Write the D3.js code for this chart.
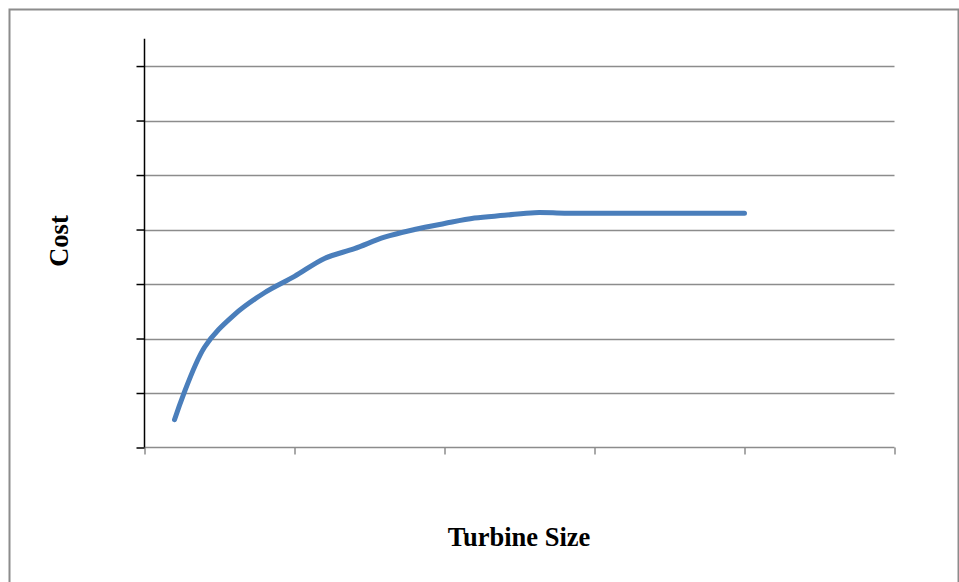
<!DOCTYPE html>
<html><head><meta charset="utf-8">
<script src="https://cdn.jsdelivr.net/npm/d3@7"></script>
<style>html,body{margin:0;padding:0;background:#fff;overflow:hidden}</style>
</head><body>
<svg id="c" width="959" height="582"></svg>
<script>
const sizes = [1,2,3,4,5,6,7,8,9,10,11,12,13,14,15,16,17,18,19,20];
const costs = [0.51,1.84,2.44,2.84,3.14,3.47,3.65,3.86,4.0,4.11,4.21,4.26,4.31,4.3,4.3,4.3,4.3,4.3,4.3,4.3];
const yTicks = [0,1,2,3,4,5,6,7];
const xTicks = [0,5,10,15,20,25];
const xTitle = "Turbine Size";
const yTitle = "Cost";

const svg = d3.select("#c");
svg.append("rect").attr("x",9.5).attr("y",9.5).attr("width",949).attr("height",600)
  .attr("fill","none").attr("stroke","#8c8c8c").attr("stroke-width",2);

const x = d3.scaleLinear().domain([0,25]).range([144.5,894.5]);
const y = d3.scaleLinear().domain([0,7.5]).range([447.5,38.8]);

// gridlines
svg.append("g").selectAll("line").data(yTicks.filter(d=>d>0)).join("line")
  .attr("x1",x(0)).attr("x2",x(25)).attr("y1",d=>Math.round(y(d))+0.5).attr("y2",d=>Math.round(y(d))+0.5)
  .attr("stroke","#8c8c8c").attr("stroke-width",1.5);

// x axis
const gx = svg.append("g").attr("transform",`translate(0,${y(0)})`)
  .call(d3.axisBottom(x).tickValues(xTicks).tickSize(7).tickFormat(""));
gx.selectAll("path,line").attr("stroke","#8c8c8c").attr("stroke-width",1.5);
gx.select(".domain").attr("d",`M${x(0)},0H${x(25)}`);

// y axis
const gy = svg.append("g").attr("transform",`translate(${x(0)},0)`)
  .call(d3.axisLeft(y).tickValues(yTicks).tickSize(8).tickFormat(""));
gy.selectAll("path,line").attr("stroke","#000").attr("stroke-width",1.5);
gy.select(".domain").attr("d",`M0,${y(7.5)}V${y(0)}`);

// line
const line = d3.line().x((d,i)=>x(sizes[i])).y(d=>y(d)).curve(d3.curveCatmullRom.alpha(0.5));
svg.append("path").datum(costs).attr("d",line).attr("fill","none")
  .attr("stroke","#4a7ebb").attr("stroke-width",5).attr("stroke-linecap","round").attr("stroke-linejoin","round");

svg.append("text").attr("x",519).attr("y",546).attr("text-anchor","middle")
  .attr("font-family","'Liberation Serif','Times New Roman',serif").attr("font-weight","bold").attr("font-size",26.5)
  .text(xTitle);
svg.append("text").attr("transform","translate(68,241) rotate(-90)").attr("text-anchor","middle")
  .attr("font-family","'Liberation Serif','Times New Roman',serif").attr("font-weight","bold").attr("font-size",26.5)
  .text(yTitle);
</script>
</body></html>
